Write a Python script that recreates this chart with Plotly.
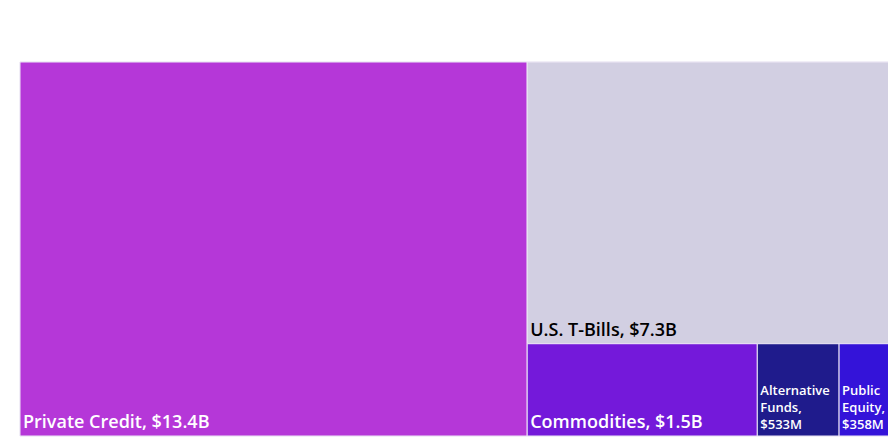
import plotly.graph_objects as go

# asset classes, values in billions USD
labels = ["Private Credit", "U.S. T-Bills", "Commodities", "Alternative Funds", "Public Equity"]
values = [13.4, 7.3, 1.5, 0.533, 0.358]
display_text = ["Private Credit, $13.4B", "U.S. T-Bills, $7.3B", "Commodities, $1.5B",
                "Alternative<br>Funds,<br>$533M", "Public<br>Equity,<br>$358M"]
colors = ["#B537D8", "#D2CFE2", "#7419DA", "#1F1B8C", "#3413D9"]
text_colors = ["white", "black", "white", "white", "white"]
text_sizes = [18, 18, 18, 13, 13]

# explicit root so no padding is added around the tiles
ids = ["root"] + labels
parents = [""] + ["root"] * len(labels)

fig = go.Figure(go.Treemap(
    ids=ids,
    labels=["All"] + labels,
    parents=parents,
    values=[0] + values,
    branchvalues="remainder",
    text=[""] + display_text,
    texttemplate="%{text}",
    textposition="bottom left",
    marker=dict(colors=["white"] + colors,
                line=dict(width=1, color="#EDE8F5"),
                pad=dict(t=0, l=0, r=0, b=0)),
    insidetextfont=dict(family="Open Sans", color=["white"] + text_colors,
                        size=[12] + text_sizes, weight=600),
    tiling=dict(packing="squarify", pad=0),
    pathbar=dict(visible=False),
    sort=True,
    hoverinfo="skip",
))

fig.update_layout(
    width=894,
    height=444,
    margin=dict(l=20, r=0, t=62, b=8),
    paper_bgcolor="white",
    font_family="Open Sans",
)

# the chart is wider than the window and is clipped on the right, as in the original
fig.write_html("out.html",
               config={"displayModeBar": False},
               post_script="document.body.style.margin='0';document.body.style.overflow='hidden';")
